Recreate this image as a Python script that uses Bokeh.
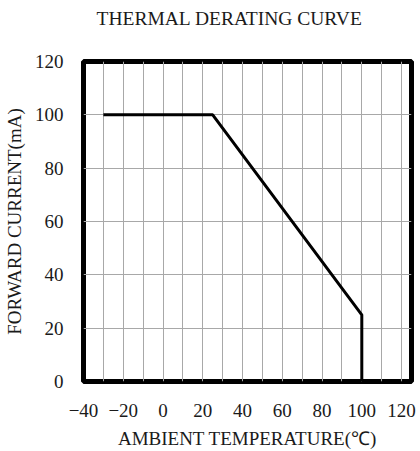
from bokeh.plotting import figure
from bokeh.models import FixedTicker, Range1d, Title
from bokeh.embed import file_html
from bokeh.resources import INLINE

# data
temperature = [-30, 25, 100, 100]
forward_current = [100, 100, 25, 0]

x_ticks = [-40, -20, 0, 20, 40, 60, 80, 100, 120]
y_ticks = [0, 20, 40, 60, 80, 100, 120]
x_grid_ticks = list(range(-40, 130, 10))
y_grid_ticks = [0, 20, 40, 60, 80, 100, 120]

FONT = "Liberation Serif"
TXT = "#1a1a1a"

p = figure(width=420, height=451, output_backend="svg", toolbar_location=None,
           x_range=Range1d(-40, 125), y_range=Range1d(0, 120),
           min_border_left=81, min_border_right=9, min_border_top=61, min_border_bottom=69,
           title="THERMAL DERATING CURVE")

p.title.text_font = FONT
p.title.text_font_size = "19.5px"
p.title.text_font_style = "normal"
p.title.text_color = TXT
p.title.align = "left"
p.title.offset = 13

# empty spacer between title and frame
p.add_layout(Title(text=" ", text_font_size="15px", text_font=FONT), "above")

p.outline_line_color = "black"
p.outline_line_width = 5
p.outline_line_alpha = 1.0

p.xgrid.ticker = FixedTicker(ticks=x_grid_ticks)
p.ygrid.ticker = FixedTicker(ticks=y_grid_ticks)
for g in (p.xgrid, p.ygrid):
    g.grid_line_color = "#a8a8a8"
    g.grid_line_width = 1
    g.grid_line_alpha = 1.0

p.xaxis.ticker = FixedTicker(ticks=x_ticks)
p.yaxis.ticker = FixedTicker(ticks=y_ticks)
for ax in (p.xaxis, p.yaxis):
    ax.axis_line_color = None
    ax.major_tick_line_color = None
    ax.minor_tick_line_color = None
    ax.major_tick_out = 0
    ax.major_tick_in = 0
    ax.major_label_text_font = FONT
    ax.major_label_text_font_size = "19px"
    ax.major_label_text_color = TXT
    ax.axis_label_text_font = FONT
    ax.axis_label_text_font_size = "19px"
    ax.axis_label_text_font_style = "normal"
    ax.axis_label_text_color = TXT

p.xaxis.axis_label = "AMBIENT TEMPERATURE(℃)"
p.yaxis.axis_label = "FORWARD CURRENT(mA)"
p.yaxis.major_label_standoff = 20
p.yaxis.axis_label_standoff = 7
p.xaxis.major_label_standoff = 22
p.xaxis.axis_label_standoff = 8

p.line(temperature, forward_current, line_color="black", line_width=3)

open("out.html", "w").write(file_html(p, INLINE))
